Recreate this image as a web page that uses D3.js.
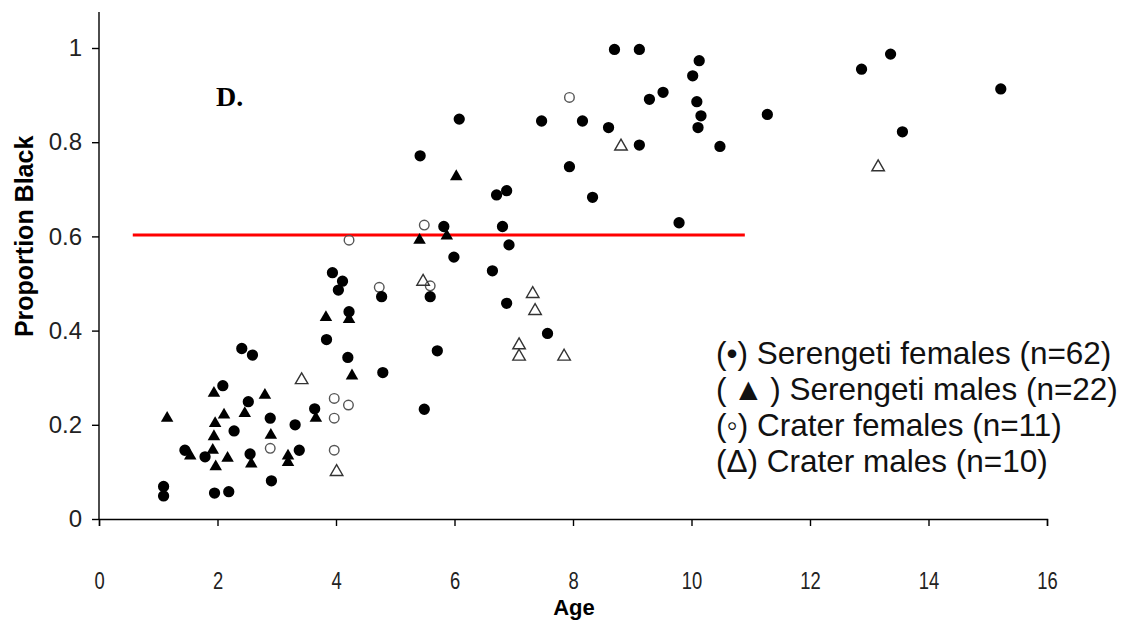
<!DOCTYPE html>
<html>
<head>
<meta charset="utf-8">
<script src="https://cdn.jsdelivr.net/npm/d3@7"></script>
<style>
  body { margin: 0; background: #fff; }
  .tick text { fill: #222; }
</style>
</head>
<body>
<div id="chart"></div>
<script>
"use strict";

// ages and proportions
var serFemAge = [1.09, 1.09, 1.45, 1.79, 1.95, 2.09, 2.19, 2.28, 2.41, 2.52, 2.55, 2.59, 2.89, 2.91, 3.31, 3.38, 3.64, 3.84, 3.94, 4.04, 4.11, 4.20, 4.22, 4.77, 4.79, 5.42, 5.49, 5.59, 5.71, 5.82, 5.99, 6.08, 6.64, 6.71, 6.81, 6.88, 6.88, 6.92, 7.47, 7.57, 7.94, 8.16, 8.33, 8.60, 8.70, 9.12, 9.12, 9.29, 9.52, 9.79, 10.02, 10.09, 10.11, 10.13, 10.16, 10.48, 11.28, 12.87, 13.36, 13.56, 15.22];
var serFemProp = [0.069, 0.049, 0.146, 0.132, 0.055, 0.283, 0.058, 0.187, 0.362, 0.249, 0.138, 0.348, 0.214, 0.081, 0.200, 0.146, 0.234, 0.381, 0.523, 0.486, 0.505, 0.343, 0.440, 0.472, 0.311, 0.771, 0.233, 0.472, 0.357, 0.621, 0.556, 0.849, 0.527, 0.688, 0.621, 0.697, 0.458, 0.582, 0.845, 0.394, 0.748, 0.845, 0.683, 0.831, 0.997, 0.997, 0.794, 0.891, 0.906, 0.629, 0.941, 0.886, 0.831, 0.973, 0.856, 0.791, 0.859, 0.955, 0.987, 0.822, 0.913];

var serMaleAge = [1.15, 1.54, 1.92, 1.94, 1.94, 1.96, 1.97, 2.11, 2.17, 2.46, 2.57, 2.80, 2.90, 3.19, 3.19, 3.66, 3.83, 4.22, 4.27, 5.41, 5.87, 6.03];
var serMaleProp = [0.214, 0.134, 0.146, 0.267, 0.175, 0.203, 0.111, 0.221, 0.129, 0.224, 0.117, 0.263, 0.178, 0.134, 0.120, 0.214, 0.428, 0.424, 0.304, 0.592, 0.601, 0.727];

var craFemAge = [2.89, 3.97, 3.97, 3.97, 4.21, 4.22, 4.73, 5.49, 5.59, 7.94];
var craFemProp = [0.150, 0.256, 0.214, 0.146, 0.242, 0.592, 0.492, 0.624, 0.495, 0.895];

var craMaleAge = [3.42, 4.01, 5.47, 7.09, 7.09, 7.32, 7.36, 7.85, 8.81, 13.15];
var craMaleProp = [0.295, 0.100, 0.504, 0.369, 0.345, 0.478, 0.442, 0.345, 0.791, 0.747];

var threshAge = [0.57, 10.9];
var threshProp = 0.603;

var xTicks = [0, 2, 4, 6, 8, 10, 12, 14, 16];
var yTicks = [0, 0.2, 0.4, 0.6, 0.8, 1];

var legendLabels = [
  "(\u2022) Serengeti females (n=62)",
  "(\u2009\u25B2\u2009) Serengeti males (n=22)",
  "(\u25E6) Crater females (n=11)",
  "(\u0394) Crater males (n=10)"
];

var margin = { top: 12, right: 76, bottom: 104, left: 99 };
var width = 1123 - margin.left - margin.right;
var height = 623 - margin.top - margin.bottom;

var svg = d3.select("#chart").append("svg").attr("width", 1123).attr("height", 623)
  .append("g").attr("transform", "translate(" + margin.left + "," + margin.top + ")");

var x = d3.scaleLinear().domain([0, 16]).range([0, width]);
var y = d3.scaleLinear().domain([0, 1]).range([height, 36]);

function pairs(ax, ay) {
  return ax.map(function (a, i) { return [a, ay[i]]; });
}

// axes
var xAxis = svg.append("g").attr("transform", "translate(0," + height + ")")
  .call(d3.axisBottom(x).tickValues(xTicks).tickSize(7).tickPadding(47).tickFormat(d3.format("d")));
xAxis.selectAll("text").style("font-family", "'Liberation Sans', Arial").style("font-size", "23px")
  .attr("transform", "scale(0.8,1)");

var yAxis = svg.append("g")
  .call(d3.axisLeft(y).tickValues(yTicks).tickSize(7).tickPadding(10).tickFormat(function (d) { return d === 0 || d === 1 ? d : d.toFixed(1); }));
yAxis.selectAll("text").style("font-family", "'Liberation Sans', Arial").style("font-size", "24px");
yAxis.select(".domain").attr("d", "M0," + height + "V0");

svg.selectAll(".domain, .tick line").attr("stroke", "#000").attr("stroke-width", 1.4);

// threshold line
svg.append("line")
  .attr("x1", x(threshAge[0])).attr("x2", x(threshAge[1]))
  .attr("y1", y(threshProp)).attr("y2", y(threshProp))
  .attr("stroke", "#ff0000").attr("stroke-width", 3);

var circle = d3.symbol().type(d3.symbolCircle).size(100);
var circleSmall = d3.symbol().type(d3.symbolCircle).size(72);
var tri = d3.symbol().type(d3.symbolTriangle).size(68);

function plot(data, sym, fill, stroke) {
  svg.append("g").selectAll("path").data(data).enter().append("path")
    .attr("d", sym)
    .attr("transform", function (d) { return "translate(" + x(d[0]) + "," + y(d[1]) + ")"; })
    .attr("fill", fill)
    .attr("stroke", stroke)
    .attr("stroke-width", stroke === "none" ? 0 : 1.4);
}

plot(pairs(craFemAge, craFemProp), circleSmall, "none", "#555");
plot(pairs(craMaleAge, craMaleProp), tri, "none", "#333");
plot(pairs(serMaleAge, serMaleProp), tri, "#000", "none");
plot(pairs(serFemAge, serFemProp), circle, "#000", "none");

// panel letter
svg.append("text").attr("x", 117).attr("y", 94)
  .style("font-family", "'Liberation Serif', 'Times New Roman'").style("font-weight", "bold").style("font-size", "28px")
  .text("D.");

// axis titles
svg.append("text").attr("text-anchor", "middle")
  .attr("transform", "translate(" + (-66) + "," + y(0.6) + ")rotate(-90)")
  .style("font-family", "'Liberation Sans', Arial").style("font-weight", "bold").style("font-size", "25px")
  .text("Proportion Black");

svg.append("text").attr("text-anchor", "middle")
  .attr("transform", "translate(" + (width / 2 + 1) + "," + (height + 96) + ")")
  .style("font-family", "'Liberation Sans', Arial").style("font-weight", "bold").style("font-size", "22px")
  .text("Age");

// legend
svg.append("g").selectAll("text").data(legendLabels).enter().append("text")
  .attr("x", 617)
  .attr("y", function (d, i) { return 352 + i * 36; })
  .style("font-family", "'Liberation Sans', Arial").style("font-size", "31.5px").style("fill", "#111")
  .text(function (d) { return d; });
</script>
</body>
</html>
